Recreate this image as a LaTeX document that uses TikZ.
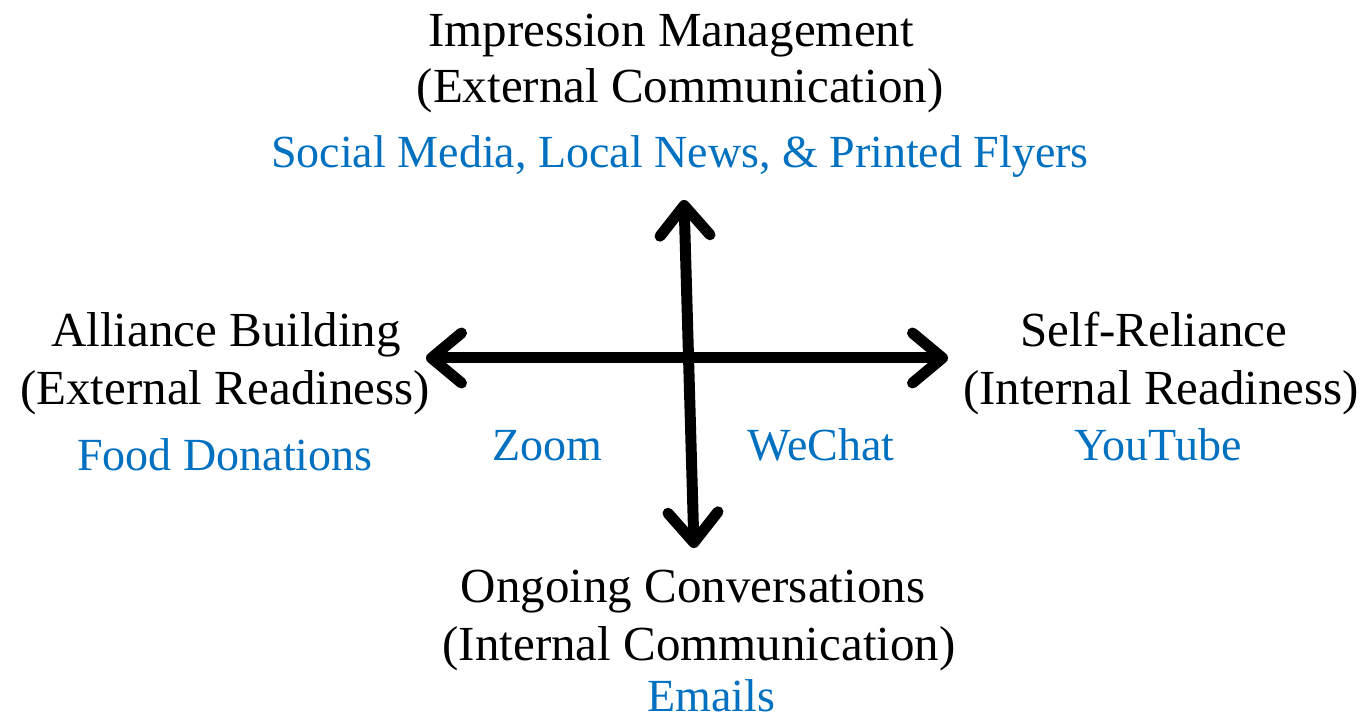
\documentclass[tikz,border=0pt]{standalone}
\usepackage{fontspec}
\setmainfont{Liberation Serif}
\usetikzlibrary{arrows.meta}
\definecolor{lblue}{HTML}{0070C0}
\begin{document}
\begin{tikzpicture}[x=1pt,y=-1pt,
  blk/.style={anchor=base,inner sep=0pt,font=\fontsize{49}{57}\selectfont},
  blu/.style={anchor=base,inner sep=0pt,text=lblue,font=\fontsize{46}{54}\selectfont},
  axis/.style={line width=11pt,{Straight Barb[length=30pt,width=50pt,round]}-{Straight Barb[length=30pt,width=50pt,round]}}]
\useasboundingbox[fill=white] (0,0) rectangle (1369,719);
% top
\node[blk] (t1) at (671,47) {Impression Management};
\node[blk] (t2) at (680,103) {(External Communication)};
\node[blu] (t3) at (680,168) {Social Media, Local News, \& Printed Flyers};
% left
\node[blk] (l1) at (226,347) {Alliance Building};
\node[blk] (l2) at (225,405) {(External Readiness)};
\node[blu] (l3) at (225,470) {Food Donations};
% right
\node[blk] (r1) at (1154,347) {Self-Reliance};
\node[blk] (r2) at (1161,405) {(Internal Readiness)};
\node[blu] (r3) at (1158,460) {YouTube};
% bottom
\node[blk] (b1) at (693,602) {Ongoing Conversations};
\node[blk] (b2) at (699,660) {(Internal Communication)};
\node[blu] (b3) at (711,711) {Emails};
% middle
\node[blu] (z) at (547,460) {Zoom};
\node[blu] (w) at (821,460) {WeChat};
% axes
\coordinate (vt) at (684,200);
\coordinate (vb) at (694,548);
\coordinate (hl) at (426,358);
\coordinate (hr) at (948,358);
\draw[axis] (hl) -- (hr);
\draw[axis] (vb) -- (vt);
\end{tikzpicture}
\end{document}
